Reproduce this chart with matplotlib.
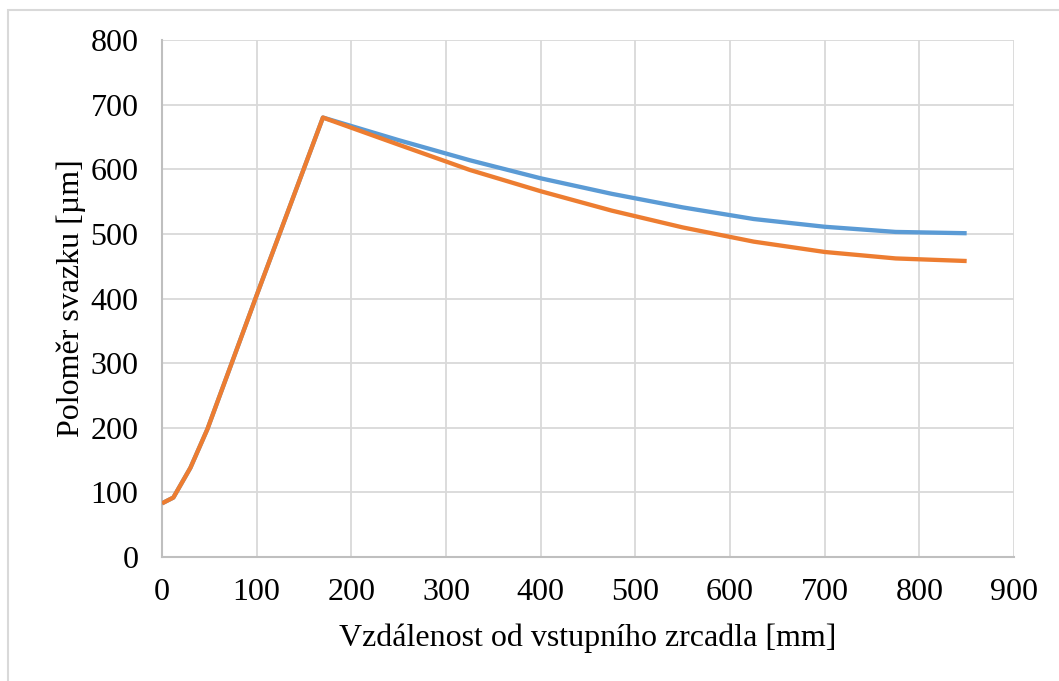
import matplotlib
matplotlib.use("Agg")
import matplotlib.pyplot as plt
from matplotlib.patches import Rectangle

# data (mm, um)
x_rise = [0, 12, 30, 48, 100, 170]
y_rise = [83, 92, 138, 198, 405, 680]

x_fall = [170, 250, 325, 400, 475, 550, 625, 700, 775, 850]
blue_fall = [680, 645, 614, 586, 562, 541, 523, 511, 503, 501]
orange_fall = [680, 638, 599, 566, 536, 510, 488, 472, 462, 458]

blue_x = x_rise + x_fall[1:]
blue_y = y_rise + blue_fall[1:]
orange_x = x_rise + x_fall[1:]
orange_y = y_rise + orange_fall[1:]

xticks = [0, 100, 200, 300, 400, 500, 600, 700, 800, 900]
yticks = [0, 100, 200, 300, 400, 500, 600, 700, 800]

plt.rcParams['font.family'] = ['Liberation Serif', 'DejaVu Serif']

fig = plt.figure(figsize=(10.59, 6.81), dpi=100)
ax = fig.add_axes([162 / 1059, 1 - 557 / 681, (1014 - 162) / 1059, (557 - 40) / 681])

# outer chart border (only top/left visible in reference)
fig.patches.append(Rectangle((8 / 1059, -0.1), 1.2, 1 - 10 / 681 + 0.1,
                             transform=fig.transFigure, fill=False,
                             edgecolor="#D9D9D9", linewidth=1.5))

ax.plot(blue_x, blue_y, color="#5B9BD5", linewidth=3.1, solid_capstyle="butt", zorder=3)
ax.plot(orange_x, orange_y, color="#ED7D31", linewidth=3.1, solid_capstyle="butt", zorder=4)

ax.set_xlim(0, 900)
ax.set_ylim(0, 800)
ax.set_xticks(xticks)
ax.set_yticks(yticks)
ax.tick_params(axis="both", length=0, labelsize=23)
ax.tick_params(axis="x", pad=15)
ax.tick_params(axis="y", pad=17)
ax.grid(True, color="#D9D9D9", linewidth=1.3)
ax.set_axisbelow(True)

for side in ["top", "right"]:
    ax.spines[side].set_visible(False)
for side in ["left", "bottom"]:
    ax.spines[side].set_color("#BFBFBF")
    ax.spines[side].set_linewidth(1.5)

ax.set_xlabel("Vzdálenost od vstupního zrcadla [mm]", fontsize=23, labelpad=12)
ax.set_ylabel("Poloměr svazku [µm]", fontsize=23, labelpad=3)

fig.savefig("out.png", dpi=100)
